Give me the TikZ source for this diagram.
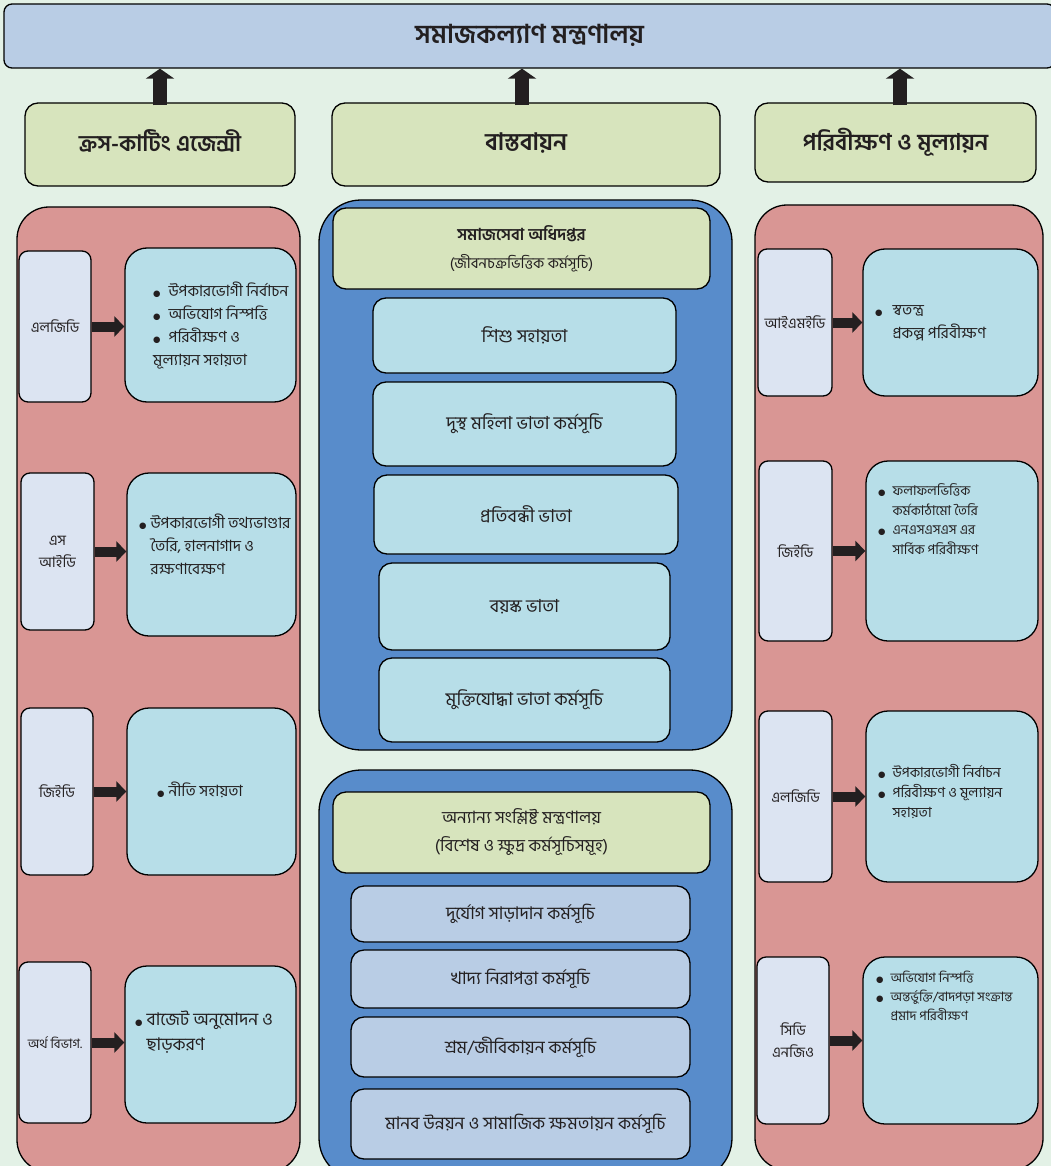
\documentclass[tikz,border=0pt]{standalone}
\usepackage{fontspec}
\setmainfont[Script=Bengali]{Hind Siliguri}
\newfontfamily\dv{DejaVu Sans}
\usetikzlibrary{arrows.meta,calc}
\definecolor{bgc}{HTML}{E3F1E6}
\definecolor{hdrc}{HTML}{B9CDE5}
\definecolor{grnc}{HTML}{D7E4BD}
\definecolor{redc}{HTML}{D99694}
\definecolor{lavc}{HTML}{DCE4F2}
\definecolor{lbc}{HTML}{B7DEE8}
\definecolor{midc}{HTML}{588CCB}
\definecolor{itc}{HTML}{B9CDE5}
\definecolor{txc}{HTML}{231F20}
\newcommand\bul{{\dv\fontsize{8.5}{8.5}\selectfont ●}}
\tikzset{
  bx/.style={draw=black, line width=1.3pt, inner sep=0pt, text=txc},
  hdrbox/.style={bx, fill=hdrc, rounded corners=8pt},
  grnbox/.style={bx, fill=grnc, rounded corners=13pt},
  panelred/.style={bx, fill=redc, rounded corners=32pt},
  panelblue/.style={bx, fill=midc, rounded corners=42pt},
  agency/.style={bx, fill=lavc, rounded corners=9pt, align=center, font=\fontsize{14.5}{22}\selectfont},
  rolebox/.style={bx, fill=lbc, rounded corners=22pt},
  progbox/.style={bx, fill=lbc, rounded corners=13pt, font=\fontsize{18}{22}\selectfont},
  prog2box/.style={bx, fill=itc, rounded corners=13pt, font=\fontsize{17.5}{22}\selectfont},
  txt/.style={inner sep=0pt, text=txc, align=left, font=\fontsize{15.5}{23}\selectfont},
  txts/.style={inner sep=0pt, text=txc, align=left, font=\fontsize{13.5}{19.5}\selectfont},
  upar/.style={draw=txc, line width=14pt, -{Triangle[width=28pt,length=10pt]}},
  rar/.style={draw=txc, line width=10pt, -{Triangle[width=20pt,length=10pt]}},
}
\begin{document}
\begin{tikzpicture}[x=1pt,y=-1pt]
\useasboundingbox (0,0) rectangle (1051,1166);
\fill[bgc] (0,0) rectangle (1051,1166);
% top level
\node[hdrbox, minimum width=1051pt, minimum height=64pt, font=\bfseries\fontsize{26}{30}\selectfont] (hdr) at (529.5,36) {\raisebox{4pt}{সমাজকল্যাণ মন্ত্রণালয়}};
\node[grnbox, minimum width=270pt, minimum height=83pt, font=\bfseries\fontsize{22.5}{26}\selectfont] (gL) at (160,144.5) {\raisebox{8pt}{ক্রস-কাটিং এজেন্সী}};
\node[grnbox, minimum width=388pt, minimum height=83pt, font=\bfseries\fontsize{24}{26}\selectfont] (gM) at (526,144.5) {\raisebox{6pt}{বাস্তবায়ন}};
\node[grnbox, minimum width=281pt, minimum height=79pt, font=\bfseries\fontsize{23}{26}\selectfont] (gR) at (895.5,142.5) {\raisebox{6pt}{পরিবীক্ষণ ও মূল্যায়ন}};
\draw[upar] ([yshift=-3pt]gL.north) -- (gL.north |- hdr.south);
\draw[upar] ([xshift=-4pt,yshift=-3pt]gM.north) -- ([xshift=-4pt]gM.north |- hdr.south);
\draw[upar] ([xshift=4.5pt,yshift=-3pt]gR.north) -- ([xshift=4.5pt]gR.north |- hdr.south);

% left panel
\node[panelred, minimum width=283pt, minimum height=965pt] (pL) at (158.5,689.5) {};
\node[agency, minimum width=72pt, minimum height=151pt] (a1) at (55,326.5) {এলজিডি};
\node[rolebox, minimum width=171pt, minimum height=154pt] (b1) at (210.5,325) {};
\node[agency, minimum width=73pt, minimum height=157pt] (a2) at (57.5,551.5) {এস\\আইডি};
\node[rolebox, minimum width=169pt, minimum height=163pt] (b2) at (211.5,554.5) {};
\node[agency, minimum width=72pt, minimum height=167pt] (a3) at (57,791.5) {জিইডি};
\node[rolebox, minimum width=169pt, minimum height=167pt] (b3) at (211.5,791.5) {};
\node[agency, minimum width=72pt, minimum height=161pt, font=\fontsize{13}{20}\selectfont] (a4) at (55,1042.5) {অর্থ বিভাগ.};
\node[rolebox, minimum width=171pt, minimum height=157pt] (b4) at (210.5,1044.5) {};
\draw[rar] (a1.east) -- (b1.west |- a1.east);
\draw[rar] (a2.east) -- (b2.west |- a2.east);
\draw[rar] (a3.east) -- (b3.west |- a3.east);
\draw[rar] (a4.east) -- (b4.west |- a4.east);
\node[txt, anchor=north west] (tb1) at (153,280) {\begin{tabular}{@{}l@{\hspace{8pt}}l@{}}\bul & উপকারভোগী নির্বাচন\\ \bul & অভিযোগ নিস্পত্তি\\ \bul & পরিবীক্ষণ ও\\ \multicolumn{2}{@{}l}{মূল্যায়ন সহায়তা}\end{tabular}};
\node[txt, anchor=north west] (tb2) at (139,512) {\begin{tabular}{@{}l@{\hspace{4pt}}l@{}}\bul & উপকারভোগী তথ্যভাণ্ডার\\ & তৈরি, হালনাগাদ ও\\ & রক্ষণাবেক্ষণ\end{tabular}};
\node[txt, anchor=west] (tb3) at (157,790) {\bul\hspace{4pt}নীতি সহায়তা};
\node[txt, anchor=north west, font=\fontsize{17.5}{25}\selectfont] (tb4) at (135,1008) {\begin{tabular}{@{}l@{\hspace{4pt}}l@{}}\bul & বাজেট অনুমোদন ও\\ & ছাড়করণ\end{tabular}};

% middle panel 1
\node[panelblue, minimum width=413pt, minimum height=550pt] (pM1) at (525.5,475) {};
\node[grnbox, minimum width=377pt, minimum height=81pt, align=center, font=\fontsize{15}{28}\selectfont] (m0) at (521.5,248.5) {{\bfseries\fontsize{16.5}{28}\selectfont সমাজসেবা অধিদপ্তর}\\(জীবনচক্রভিত্তিক কর্মসূচি)};
\node[progbox, minimum width=303pt, minimum height=75pt] (m1) at (524.5,335.5) {শিশু সহায়তা};
\node[progbox, minimum width=303pt, minimum height=84pt] (m2) at (524.5,424) {দুস্থ মহিলা ভাতা কর্মসূচি};
\node[progbox, minimum width=304pt, minimum height=79pt] (m3) at (526,514.5) {প্রতিবন্ধী ভাতা};
\node[progbox, minimum width=291pt, minimum height=87pt] (m4) at (524.5,606.5) {বয়স্ক ভাতা};
\node[progbox, minimum width=291pt, minimum height=84pt] (m5) at (524.5,700) {মুক্তিযোদ্ধা ভাতা কর্মসূচি};

% middle panel 2
\node[panelblue, minimum width=413pt, minimum height=410pt] (pM2) at (525.5,975) {};
\node[grnbox, minimum width=377pt, minimum height=81pt, align=center, font=\fontsize{17}{28}\selectfont] (n0) at (521.5,832.5) {অন্যান্য সংশ্লিষ্ট মন্ত্রণালয়\\(বিশেষ ও ক্ষুদ্র কর্মসূচিসমূহ)};
\node[prog2box, minimum width=339pt, minimum height=56pt] (n1) at (520.5,914) {দুর্যোগ সাড়াদান কর্মসূচি};
\node[prog2box, minimum width=339pt, minimum height=58pt] (n2) at (520.5,979) {খাদ্য নিরাপত্তা কর্মসূচি};
\node[prog2box, minimum width=339pt, minimum height=60pt] (n3) at (520.5,1047) {শ্রম/জীবিকায়ন কর্মসূচি};
\node[prog2box, minimum width=339pt, minimum height=70pt] (n4) at (520.5,1124) {\hspace{10pt}মানব উন্নয়ন ও সামাজিক ক্ষমতায়ন কর্মসূচি};

% right panel
\node[panelred, minimum width=288pt, minimum height=965pt] (pR) at (899,687.5) {};
\node[agency, minimum width=74pt, minimum height=147pt] (r1) at (795,322.5) {আইএমইডি};
\node[rolebox, minimum width=175pt, minimum height=147pt] (s1) at (950.5,322.5) {};
\node[agency, minimum width=73pt, minimum height=180pt] (r2) at (795.5,551) {জিইডি};
\node[rolebox, minimum width=172pt, minimum height=180pt] (s2) at (952,551) {};
\node[agency, minimum width=73pt, minimum height=171pt] (r3) at (795.5,796.5) {এলজিডি};
\node[rolebox, minimum width=172pt, minimum height=171pt] (s3) at (952,796.5) {};
\node[agency, minimum width=72pt, minimum height=167pt] (r4) at (793,1040.5) {সিডি\\এনজিও};
\node[rolebox, minimum width=175pt, minimum height=167pt] (s4) at (950.5,1040.5) {};
\draw[rar] (r1.east) -- (s1.west |- r1.east);
\draw[rar] (r2.east) -- (s2.west |- r2.east);
\draw[rar] (r3.east) -- (s3.west |- r3.east);
\draw[rar] (r4.east) -- (s4.west |- r4.east);
\node[txt, anchor=north west] (u1) at (875,299) {\begin{tabular}{@{}l@{\hspace{10pt}}l@{}}\bul & স্বতন্ত্র\\ & প্রকল্প পরিবীক্ষণ\end{tabular}};
\node[txts, anchor=north west] (u2) at (878,482) {\begin{tabular}{@{}l@{\hspace{7pt}}l@{}}\bul & ফলাফলভিত্তিক\\ & কর্মকাঠামো তৈরি\\ \bul & এনএসএসএস এর\\ & সার্বিক পরিবীক্ষণ\end{tabular}};
\node[txts, anchor=north west, font=\fontsize{14}{20}\selectfont] (u3) at (878,763) {\begin{tabular}{@{}l@{\hspace{7pt}}l@{}}\bul & উপকারভোগী নির্বাচন\\ \bul & পরিবীক্ষণ ও মূল্যায়ন\\ & সহায়তা\end{tabular}};
\node[txts, anchor=north west, font=\fontsize{13}{19}\selectfont] (u4) at (876,969) {\begin{tabular}{@{}l@{\hspace{7pt}}l@{}}\bul & অভিযোগ নিস্পত্তি\\ \bul & অন্তর্ভুক্তি/বাদপড়া সংক্রান্ত\\ & প্রমাদ পরিবীক্ষণ\end{tabular}};
\end{tikzpicture}
\end{document}
